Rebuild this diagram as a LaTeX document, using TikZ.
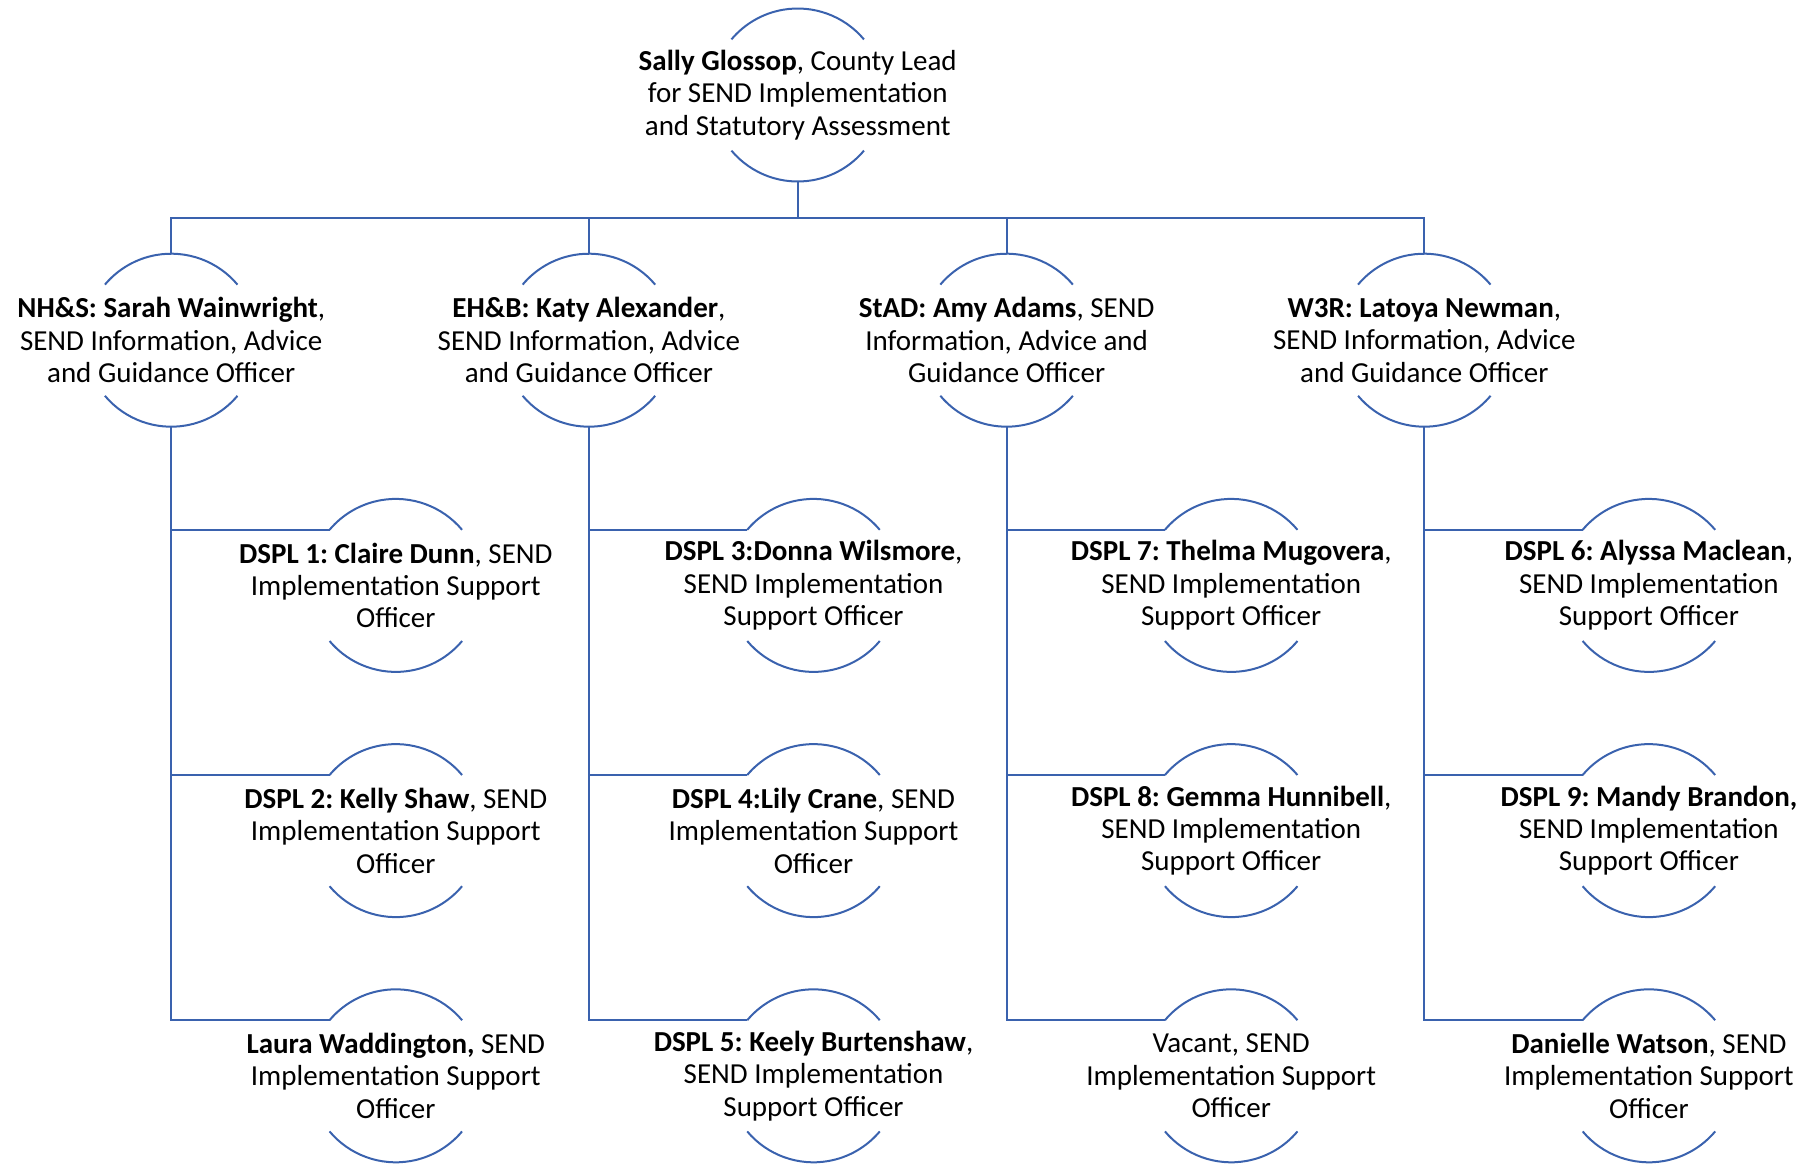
\documentclass[tikz,border=0pt]{standalone}
\usepackage{fontspec}
\setmainfont{Carlito}
\frenchspacing
\definecolor{orgblue}{HTML}{3A62AE}
\tikzset{
  person/.style={circle, minimum size=86.5pt, inner sep=0pt, outer sep=0pt},
  txt/.style={align=center, inner sep=0pt, font=\fontsize{14.5}{16.2}\selectfont},
  orgline/.style={draw=orgblue, line width=1pt}
}
\begin{document}
\begin{tikzpicture}[x=0.5pt,y=0.5pt]
\useasboundingbox (0,0) rectangle (1803,-1163);
\node[person, label={[txt]center:{\textbf{Sally Glossop}, County Lead\\for SEND Implementation\\and Statutory Assessment}}] (sg) at (797.7,-95) {};
\foreach \n/\x/\t in {
    nhs/171.2/{\textbf{NH\&S: Sarah Wainwright},\\SEND Information, Advice\\and Guidance Officer},
    ehb/588.9/{\textbf{EH\&B: Katy Alexander},\\SEND Information, Advice\\and Guidance Officer},
    stad/1006.6/{\textbf{StAD: Amy Adams}, SEND\\Information, Advice and\\Guidance Officer},
    wtr/1424.3/{\textbf{W3R: Latoya Newman},\\SEND Information, Advice\\and Guidance Officer}}{
    \node[person, label={[txt]center:{\t}}] (\n) at (\x,-340.2) {};
}
\coordinate (bus) at (797.7,-217.5);
\foreach \n in {nhs,ehb,stad,wtr}{
    \draw[orgline] (sg.south) |- (bus) -| (\n.north);
}
\foreach \n/\p/\x/\y/\t in {
    d1/nhs/395.8/585.4/{\textbf{DSPL 1: Claire Dunn}, SEND\\Implementation Support\\Officer},
    d2/nhs/395.8/830.6/{\textbf{DSPL 2: Kelly Shaw}, SEND\\Implementation Support\\Officer},
    lw/nhs/395.8/1075.8/{\textbf{Laura Waddington,} SEND\\Implementation Support\\Officer},
    d3/ehb/813.5/585.4/{\textbf{DSPL 3:Donna Wilsmore},\\SEND Implementation\\Support Officer},
    d4/ehb/813.5/830.6/{\textbf{DSPL 4:Lily Crane}, SEND\\Implementation Support\\Officer},
    d5/ehb/813.5/1075.8/{\textbf{DSPL 5: Keely Burtenshaw},\\SEND Implementation\\Support Officer},
    d7/stad/1231.2/585.4/{\textbf{DSPL 7: Thelma Mugovera},\\SEND Implementation\\Support Officer},
    d8/stad/1231.2/830.6/{\textbf{DSPL 8: Gemma Hunnibell},\\SEND Implementation\\Support Officer},
    vac/stad/1231.2/1075.8/{Vacant, SEND\\Implementation Support\\Officer},
    d6/wtr/1648.9/585.4/{\textbf{DSPL 6: Alyssa Maclean},\\SEND Implementation\\Support Officer},
    d9/wtr/1648.9/830.6/{\textbf{DSPL 9: Mandy Brandon,}\\SEND Implementation\\Support Officer},
    dw/wtr/1648.9/1075.8/{\textbf{Danielle Watson}, SEND\\Implementation Support\\Officer}}{
    \node[person, label={[txt]center:{\t}}] (\n) at (\x,-\y) {};
    \draw[orgline] (\p.south) |- (\n.140);
}
% top and bottom arcs of every circle
\foreach \n in {sg,nhs,ehb,stad,wtr,d1,d2,lw,d3,d4,d5,d7,d8,vac,d6,d9,dw}{
    \draw[orgline] (\n.40) arc[start angle=40, end angle=140, radius=86.5]
                   (\n.220) arc[start angle=220, end angle=320, radius=86.5];
}
\end{tikzpicture}
\end{document}
